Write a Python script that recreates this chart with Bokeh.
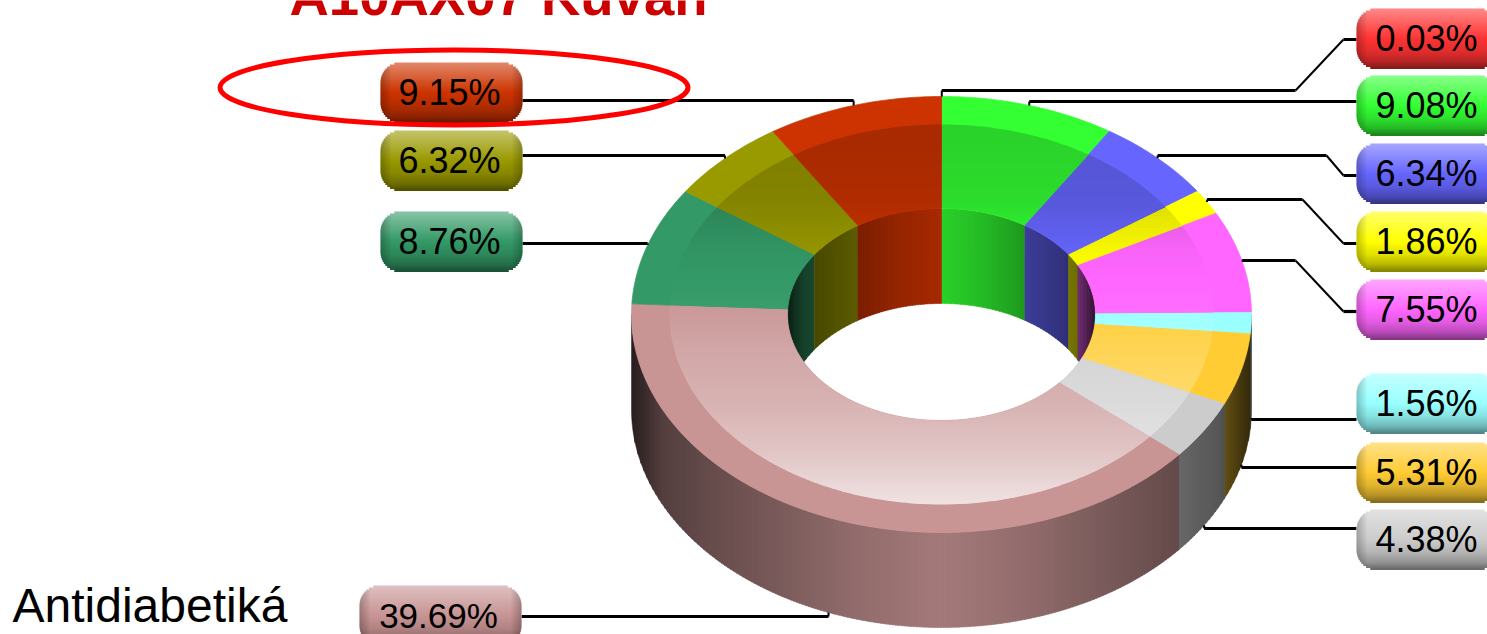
import math
from bokeh.plotting import figure
from bokeh.models import Range1d, ColumnDataSource
from bokeh.core.properties import value
from bokeh.embed import file_html
from bokeh.resources import INLINE

# ---- data ----
percent = [0.03, 9.08, 6.34, 1.86, 7.55, 1.56, 5.31, 4.38, 39.69, 8.76, 6.32, 9.15]
colors = ["#FF3333", "#33FF33", "#6666FF", "#FFFF00", "#FF66FF", "#99FFFF",
          "#FFCC33", "#CCCCCC", "#C89494", "#339966", "#999900", "#CC3300"]
title_text = "A10AX07 Kuvan"
note_text = "Antidiabetiká"

# ---- layout (page pixels) ----
W, H = 1487, 634
CX, CY, DEPTH = 941, 314, 95
RX, RY = 310, 218          # outer edge
BX, BY = 272, 190          # edge of the flat rim
IX, IY = 154, 106          # hole
pill_left = [1356, 1356, 1356, 1356, 1356, 1356, 1356, 1356, 359, 380, 380, 380]
pill_right = [1498, 1498, 1498, 1498, 1498, 1498, 1498, 1498, 521, 522, 522, 522]
pill_top = [8, 75, 143, 211, 279, 373, 442, 509, 585, 211, 130, 62]
pill_h = 60
label_size = [36, 36, 36, 36, 36, 36, 36, 36, 35, 36, 36, 36]
label_dx = [-1, -1, -1, -1, -1, -1, -1, -1, -2, -2, -2, -2]
leader_y = [90, 101, 155, 199, 260, 419, 467, 528, 616, 243, 155, 100]
leader_elbow_x = [1295, None, 1326, 1302, 1295, None, None, None, None, None, None, None]
pill_conn_y = [39, 101, 175, 243, 311, 419, 467, 528, 616, 243, 155, 100]
BASE_SHIFT = 0.40  # em offset of the alphabetic baseline in the svg backend


def rgb(h):
    return tuple(int(h[i:i + 2], 16) for i in (1, 3, 5))


def tohex(c):
    return "#%02X%02X%02X" % tuple(max(0, min(255, int(round(v)))) for v in c)


def mult(c, f):
    return tuple(v * f for v in c)


def mixw(c, f):
    return tuple(v + (255 - v) * f for v in c)


def lerp(xs, ys, x):
    if x <= xs[0]:
        return ys[0]
    for i in range(1, len(xs)):
        if x <= xs[i]:
            t = (x - xs[i - 1]) / (xs[i] - xs[i - 1])
            return ys[i - 1] + (ys[i] - ys[i - 1]) * t
    return ys[-1]


def pt(deg, rx, ry, dy=0):
    a = math.radians(deg)
    return (CX + rx * math.sin(a), CY - ry * math.cos(a) + dy)


def arc(a0, a1, rx, ry, dy=0):
    n = max(2, int(abs(a1 - a0) / 0.75) + 2)
    return [pt(a0 + (a1 - a0) * i / (n - 1), rx, ry, dy) for i in range(n)]


def clip_half(poly, axis, lim, keep_ge):
    out = []
    for i in range(len(poly)):
        p, q = poly[i - 1], poly[i]
        pin = p[axis] >= lim if keep_ge else p[axis] <= lim
        qin = q[axis] >= lim if keep_ge else q[axis] <= lim
        if pin != qin:
            t = (lim - p[axis]) / (q[axis] - p[axis])
            out.append((p[0] + (q[0] - p[0]) * t, p[1] + (q[1] - p[1]) * t))
        if qin:
            out.append(q)
    return out


def clip(poly, axis, lo, hi):
    r = clip_half(poly, axis, lo, True)
    if r:
        r = clip_half(r, axis, hi, False)
    return r


def wall_shade(nx):
    return lerp([0, .3, .5, .77, .9, .97, 1], [.82, .72, .62, .5, .42, .26, .2], abs(nx))


def band_color(c, y):
    f = lerp([123, 200, 250, 304, 350, 400, 450, 503],
             [-.18, -.14, -.03, .03, .17, .28, .45, .72], y)
    return mult(c, 1 + f) if f < 0 else mixw(c, f)


total = sum(percent)
starts, ends = [], []
acc = 0.0
for v in percent:
    starts.append(acc / total * 360)
    acc += v
    ends.append(acc / total * 360)

p = figure(width=W, height=H, x_range=Range1d(0, W), y_range=Range1d(H, 0),
           output_backend="svg", toolbar_location=None, min_border=0,
           outline_line_color=None, background_fill_color="white",
           border_fill_color="white")
p.axis.visible = False
p.grid.visible = False


def draw_polys(polys, cols, lw=0.0):
    src = ColumnDataSource(dict(xs=[[a for a, _ in q] for q in polys],
                                ys=[[b for _, b in q] for q in polys], c=cols))
    if lw:
        p.patches("xs", "ys", source=src, fill_color="c", line_color="c", line_width=lw)
    else:
        p.patches("xs", "ys", source=src, fill_color="c", line_color=None)


def overlap(a0, a1, lo, hi):
    return max(a0, lo), min(a1, hi)


# ---- inner walls (back half of the hole) ----
polys, cols = [], []
for a0, a1, col in zip(starts, ends, colors):
    c = rgb(col)
    for lo, hi in ((-90, 90), (270, 450)):
        b0, b1 = overlap(a0, a1, lo, hi)
        if b1 <= b0:
            continue
        top = arc(b0, b1, IX, IY)
        wall = top + [(x, y + DEPTH) for x, y in reversed(top)]
        xmin, xmax = min(q[0] for q in wall), max(q[0] for q in wall)
        x = xmin
        while x < xmax:
            s = clip(wall, 0, x, min(x + 3.7, xmax))
            if len(s) > 2:
                polys.append(s)
                cols.append(tohex(mult(c, wall_shade((x + 1.5 - CX) / IX))))
            x += 3
draw_polys(polys, cols, lw=0.5)

# ---- outer walls (front half) ----
polys, cols = [], []
for a0, a1, col in zip(starts, ends, colors):
    c = rgb(col)
    b0, b1 = overlap(a0, a1, 90, 270)
    if b1 <= b0:
        continue
    top = arc(b0, b1, RX, RY)
    wall = top + [(x, y + DEPTH) for x, y in reversed(top)]
    xmin, xmax = min(q[0] for q in wall), max(q[0] for q in wall)
    x = xmin
    while x < xmax:
        s = clip(wall, 0, x, min(x + 3.7, xmax))
        if len(s) > 2:
            polys.append(s)
            cols.append(tohex(mult(c, wall_shade((x + 1.5 - CX) / RX))))
        x += 3
draw_polys(polys, cols, lw=0.5)

# ---- top face: flat rim colour ----
polys = [arc(a0, a1, RX, RY) + arc(a1, a0, IX, IY) for a0, a1 in zip(starts, ends)]
draw_polys(polys, list(colors), lw=0.7)

# ---- top face: shaded band ----
polys, cols = [], []
for a0, a1, col in zip(starts, ends, colors):
    c = rgb(col)
    sector = arc(a0, a1, BX, BY) + arc(a1, a0, IX, IY)
    ymin, ymax = min(q[1] for q in sector), max(q[1] for q in sector)
    y = ymin
    while y < ymax:
        s = clip(sector, 1, y, min(y + 3.7, ymax))
        if len(s) > 2:
            polys.append(s)
            cols.append(tohex(band_color(c, y + 1.5)))
        y += 3
draw_polys(polys, cols)

# ---- leader lines ----
hx, hy, dx, dy = [], [], [], []
for i in range(len(percent)):
    mid = (starts[i] + ends[i]) / 2
    front = 90 < mid < 270
    ax, ay = pt(mid, RX, RY, DEPTH if front else 0)
    right = pill_left[i] > CX
    edge = pill_left[i] if right else pill_right[i]
    if leader_elbow_x[i] is not None:
        hx.append([edge, edge - 13])
        hy.append([pill_conn_y[i], pill_conn_y[i]])
        dx.append([edge - 13, leader_elbow_x[i]])
        dy.append([pill_conn_y[i], leader_y[i]])
        hx.append([leader_elbow_x[i], ax])
        hy.append([leader_y[i], leader_y[i]])
    else:
        hx.append([edge, ax])
        hy.append([leader_y[i], leader_y[i]])
    dx.append([ax, ax])
    dy.append([leader_y[i], ay])
p.multi_line(hx, hy, line_color="black", line_width=3.2)
p.multi_line(dx, dy, line_color="black", line_width=2)

# ---- label pills ----
R = 20
q_l, q_r, q_t, q_b, q_c = [], [], [], [], []
o_l, o_r, o_t, o_b, o_a = [], [], [], [], []


def inset(d):
    d = max(0.0, d)
    if d >= R:
        return 0.0
    return R - math.sqrt(R * R - (R - d) ** 2)


for i, col in enumerate(colors):
    c = rgb(col)
    l, r, t = pill_left[i], pill_right[i], pill_top[i]
    for k in range(0, pill_h, 2):
        d = min(k + 1, pill_h - k - 1)
        ins = inset(d)
        u = (k + 1) / pill_h
        if u < .5:
            colr = mixw(c, lerp([0, .5], [.42, 0], u))
        else:
            colr = mult(c, lerp([.5, .72, .88, 1], [1, .88, .72, .5], u))
        q_l.append(l + ins)
        q_r.append(r - ins)
        q_t.append(t + k)
        q_b.append(t + k + 2.4)
        q_c.append(tohex(colr))
        for e in range(5):
            if ins <= e * 2 + 2:
                a = .22 - e * .045
                lo = max(l + e * 2, l + ins)
                o_l.append(lo)
                o_r.append(l + e * 2 + 2)
                o_t.append(t + k)
                o_b.append(t + k + 2)
                o_a.append(a)
                o_l.append(r - e * 2 - 2)
                o_r.append(min(r - e * 2, r - ins))
                o_t.append(t + k)
                o_b.append(t + k + 2)
                o_a.append(a)
p.quad(left=q_l, right=q_r, top=q_t, bottom=q_b, fill_color=q_c, line_color=None)
p.quad(left=o_l, right=o_r, top=o_t, bottom=o_b, fill_color="#000000",
       fill_alpha=o_a, line_color=None)

for i, v in enumerate(percent):
    size = label_size[i]
    p.text(x=[(pill_left[i] + pill_right[i]) / 2 + label_dx[i]],
           y=[pill_top[i] + 44 - BASE_SHIFT * size],
           text=["%.2f%%" % v], text_font=value("Liberation Sans"),
           text_font_size="%dpx" % size, text_color="#000000",
           text_align="center", text_baseline="alphabetic")

# ---- texts and annotation ----
p.text(x=[289], y=[18 - BASE_SHIFT * 54], text=[title_text], text_font=value("Liberation Sans"),
       text_font_style="bold", text_font_size="54.5px", text_color="#CC0000",
       text_align="left", text_baseline="alphabetic")
p.text(x=[12], y=[624 - BASE_SHIFT * 48], text=[note_text], text_font=value("Liberation Sans"),
       text_font_size="48px", text_color="#000000",
       text_align="left", text_baseline="alphabetic")
p.ellipse(x=[453.5], y=[87], width=[468], height=[75], fill_color=None,
          line_color="#FF0000", line_width=5)

open("out.html", "w").write(file_html(p, INLINE))
